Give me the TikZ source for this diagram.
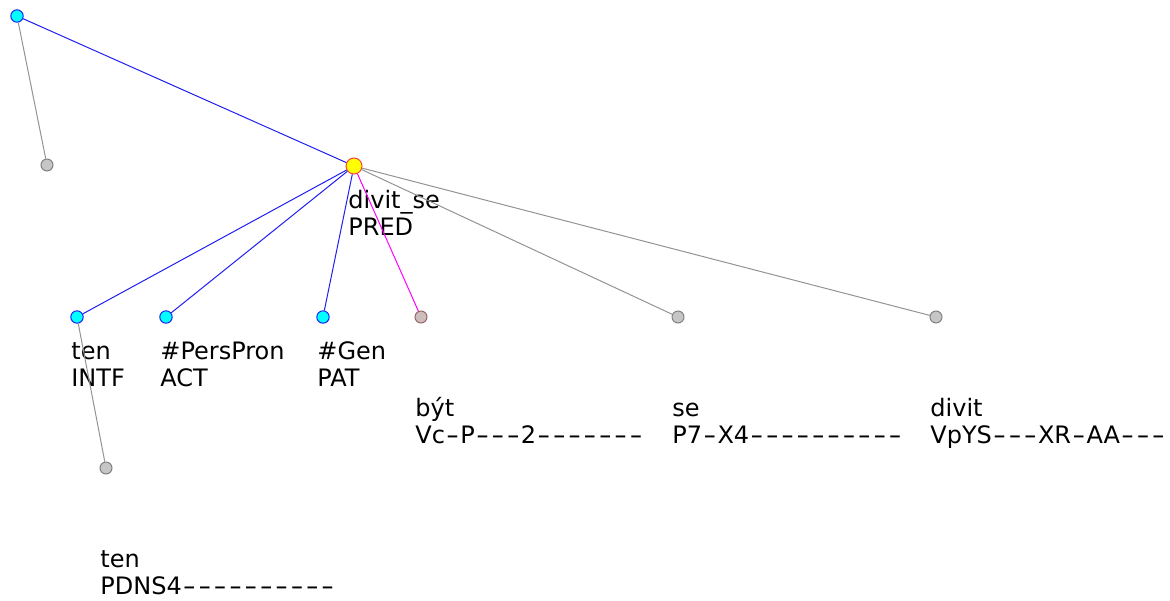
\documentclass[tikz,border=0pt]{standalone}
\usepackage{fontspec}
\usepackage{graphicx}
\newfontfamily\trfont{DejaVu Sans}
\usetikzlibrary{positioning}
\definecolor{tcyan}{RGB}{0,255,255}
\definecolor{tblue}{RGB}{30,30,240}
\definecolor{tmag}{RGB}{255,0,255}
\definecolor{tyel}{RGB}{255,255,0}
\definecolor{tred}{RGB}{250,70,50}
\newcommand\hy{\makebox[0.64em]{\scalebox{1.5}[1]{-}}}

\begin{document}
\begin{tikzpicture}[x=0.5pt, y=-0.5pt,
    tnode/.style={circle, draw=tblue, fill=tcyan, minimum size=6.2pt, inner sep=0pt, line width=0.5pt},
    anode/.style={circle, draw=gray, fill=gray!45, minimum size=6pt, inner sep=0pt, line width=0.5pt},
    lab/.style={anchor=base west, inner sep=0pt, align=left, font={\trfont\fontsize{12}{13.5}\selectfont}},
    tlab/.style={lab, xshift=-3pt, yshift=-34.8pt},
    alab/.style={lab, xshift=-3pt, yshift=-63.3pt},
    tedge/.style={tblue, line width=0.5pt},
    aedge/.style={gray!85, line width=0.5pt}]
    \useasboundingbox (0,0) rectangle (1170,600);

    % uzly tektogramaticke roviny
    \node[tnode] (root) at (17,16) {};
    \node[circle, draw=tred, fill=tyel, minimum size=8pt, inner sep=0pt, line width=0.5pt] (pred) at (354,166) {};
    \node[tnode] (intf) at (77,317) {};
    \node[tnode] (act) at (166,317) {};
    \node[tnode] (pat) at (323,317) {};

    % uzly analyticke roviny
    \node[anode] (aroot) at (47,165) {};
    \node[anode, fill=red!15!gray!45, draw=red!20!gray] (byt) at (421,317) {};
    \node[anode] (se) at (678,317) {};
    \node[anode] (divit) at (936,317) {};
    \node[anode] (ten) at (106,468) {};

    % popisky
    \node[tlab] (pred-l) at (pred) {divit\_se\\PRED};
    \node[tlab] (intf-l) at (intf) {ten\\INTF};
    \node[tlab] (act-l) at (act) {\#PersPron\\ACT};
    \node[tlab] (pat-l) at (pat) {\#Gen\\PAT};
    \node[alab] (byt-l) at (byt) {být\\Vc\hy P\hy\hy\hy 2\hy\hy\hy\hy\hy\hy\hy};
    \node[alab] (se-l) at (se) {se\\P7\hy X4\hy\hy\hy\hy\hy\hy\hy\hy\hy\hy};
    \node[alab] (divit-l) at (divit) {divit\\VpYS\hy\hy\hy XR\hy AA\hy\hy\hy};
    \node[alab] (ten-l) at (ten) {ten\\PDNS4\hy\hy\hy\hy\hy\hy\hy\hy\hy\hy};

    % hrany
    \draw[tedge] (root) -- (pred);
    \draw[aedge] (root) -- (aroot);
    \draw[tedge] (pred) -- (intf);
    \draw[tedge] (pred) -- (act);
    \draw[tedge] (pred) -- (pat);
    \draw[tmag, line width=0.5pt] (pred) -- (byt);
    \draw[aedge] (pred) -- (se);
    \draw[aedge] (pred) -- (divit);
    \draw[aedge] (intf) -- (ten);
\end{tikzpicture}
\end{document}
